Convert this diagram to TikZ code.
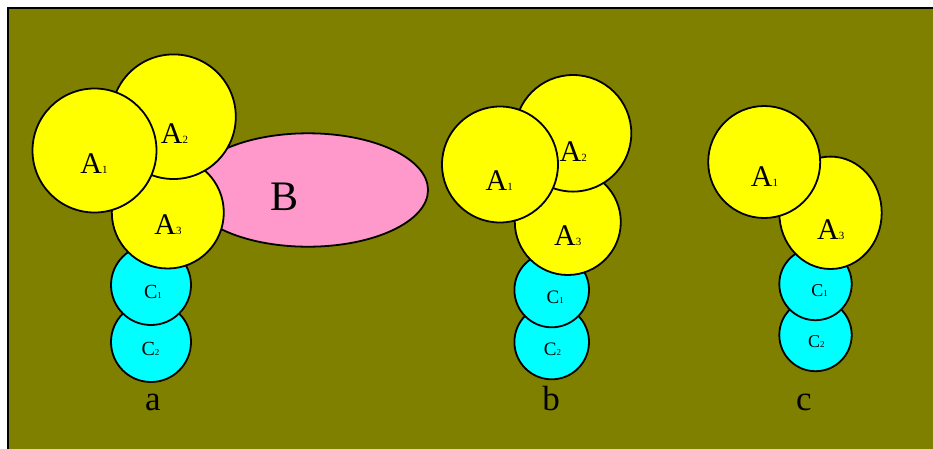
\documentclass[tikz,border=0pt]{standalone}
\usepackage{fontspec}
\setmainfont{Liberation Serif}
\usetikzlibrary{shapes.geometric}

\definecolor{bgolive}{HTML}{808000}
\definecolor{domyellow}{HTML}{FFFF00}
\definecolor{domcyan}{HTML}{00FFFF}
\definecolor{dompink}{HTML}{FF99CC}

% letter with a small digit sitting on the same baseline
\newcommand{\subunit}[4]{{\fontsize{#1}{#1}\selectfont #3}{\fontsize{#2}{#2}\selectfont #4}}

\tikzset{
  blob/.style={draw=black, line width=1.8pt, inner sep=0pt, outer sep=0pt},
  adom/.style={blob, circle, fill=domyellow, minimum size=#1},
  aoval/.style={blob, ellipse, fill=domyellow},
  cdom/.style={blob, circle, fill=domcyan, minimum size=#1},
  bdom/.style={blob, ellipse, fill=dompink},
  lab/.style={anchor=base, inner sep=0pt, outer sep=0pt, text=black},
}

\begin{document}
\begin{tikzpicture}[x=1pt, y=-1pt]
  \useasboundingbox (0,0) rectangle (933,448);
  \clip (0,0) rectangle (933,448);

  % background panel
  \draw[line width=1.8pt, fill=bgolive] (7.8,7.8) rectangle (950,470);

  % ---------- complex a ----------
  \node[bdom, minimum width=240pt, minimum height=113.4pt] (aB) at (308,190) {};
  \node[cdom=80pt] (aC2) at (151,342) {};
  \node[cdom=80pt] (aC1) at (151,285) {};
  \node[adom=112pt] (aA3) at (167.8,212.5) {};
  \node[adom=124.6pt] (aA2) at (173.5,116.7) {};
  \node[adom=124pt] (aA1) at (94.5,150.5) {};

  \node[lab] (aA1t) at (94,173.3) {\subunit{30}{11}{A}{1}};
  \node[lab] (aA2t) at (174.5,143.3) {\subunit{30}{11}{A}{2}};
  \node[lab] (aA3t) at (168,234.5) {\subunit{30}{11}{A}{3}};
  \node[lab] (aBt) at (285,210.6) {\fontsize{42}{42}\selectfont B};
  \node[lab] (aC1t) at (153,298.3) {\subunit{20}{9}{C}{1}};
  \node[lab] (aC2t) at (150.5,355) {\subunit{20}{9}{C}{2}};
  \node[lab] (aname) at (152.8,410.7) {\fontsize{35}{35}\selectfont a};

  % ---------- complex b ----------
  \node[cdom=74.6pt] (bC2) at (551.7,342) {};
  \node[cdom=74.6pt] (bC1) at (551.7,290) {};
  \node[adom=106pt] (bA3) at (567.8,222) {};
  \node[adom=116.6pt] (bA2) at (573,133.3) {};
  \node[adom=116pt] (bA1) at (500,164.5) {};

  \node[lab] (bA1t) at (499.3,190) {\subunit{30}{11}{A}{1}};
  \node[lab] (bA2t) at (573.3,161) {\subunit{30}{11}{A}{2}};
  \node[lab] (bA3t) at (567.7,245.7) {\subunit{30}{11}{A}{3}};
  \node[lab] (bC1t) at (555.3,303.3) {\subunit{19}{9}{C}{1}};
  \node[lab] (bC2t) at (552.5,355) {\subunit{19}{9}{C}{2}};
  \node[lab] (bname) at (551,410) {\fontsize{35}{35}\selectfont b};

  % ---------- complex c ----------
  \node[cdom=72.4pt] (cC2) at (815.5,335) {};
  \node[cdom=72.4pt] (cC1) at (815.5,284) {};
  \node[aoval, minimum width=102.4pt, minimum height=112.4pt] (cA3) at (830.5,212.8) {};
  \node[adom=112pt] (cA1) at (764.2,162) {};

  \node[lab] (cA1t) at (764.5,186.7) {\subunit{30}{11}{A}{1}};
  \node[lab] (cA3t) at (830.8,239) {\subunit{30}{11}{A}{3}};
  \node[lab] (cC1t) at (819.5,296.7) {\subunit{18}{9}{C}{1}};
  \node[lab] (cC2t) at (816.3,347.3) {\subunit{18}{9}{C}{2}};
  \node[lab] (cname) at (804,410) {\fontsize{35}{35}\selectfont c};
\end{tikzpicture}
\end{document}
